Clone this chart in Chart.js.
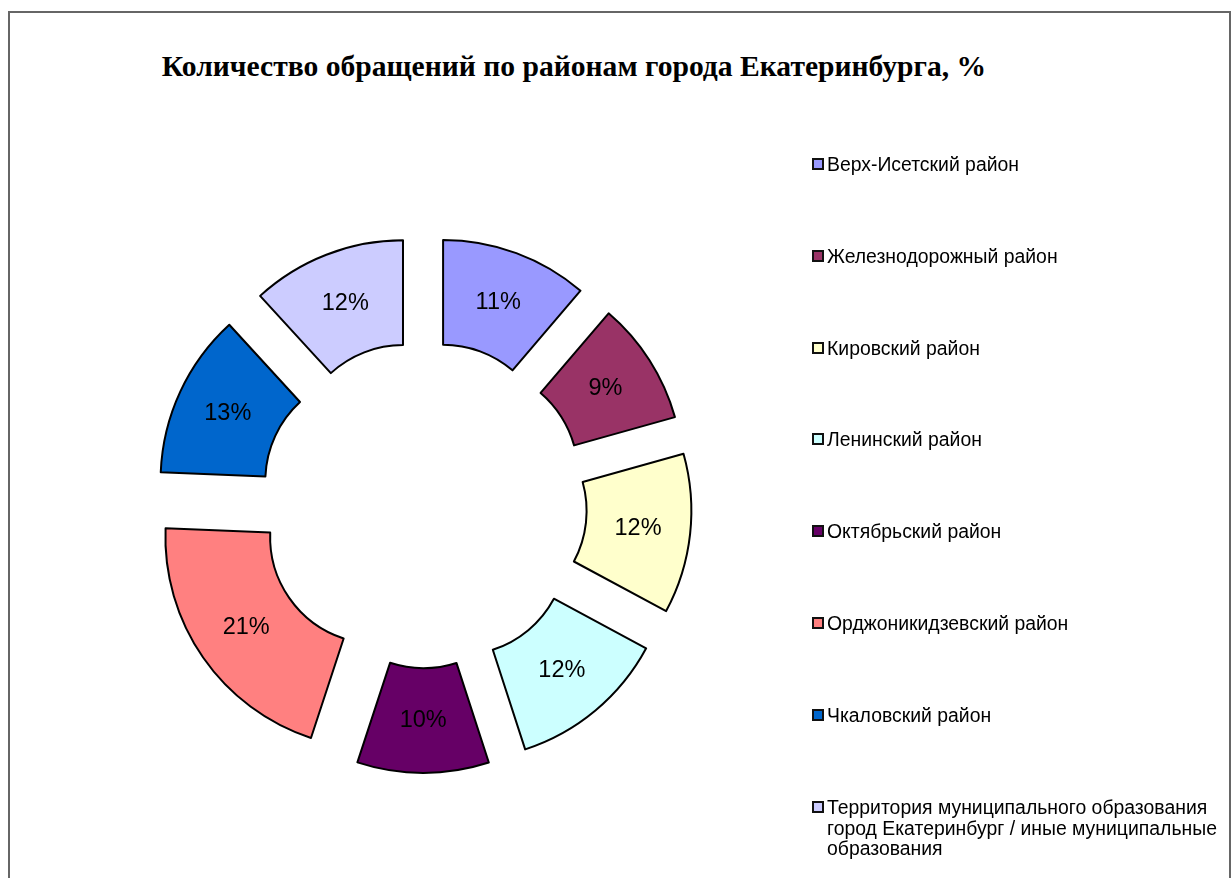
<!DOCTYPE html>
<html>
<head>
<meta charset="utf-8">
<script src="https://cdn.jsdelivr.net/npm/chart.js@4"></script>
<style>
  html, body { margin: 0; padding: 0; background: #fff; width: 1232px; height: 878px; overflow: hidden; }
  #frame { position: absolute; left: 8px; top: 11px; width: 1223px; height: 900px; border: 2px solid #666; box-sizing: border-box; }
  #title { position: absolute; left: 0; top: 48px; width: 1148px; text-align: center; font-family: "Liberation Serif", "Times New Roman", serif; font-weight: bold; font-size: 29.6px; line-height: 36px; color: #000; white-space: nowrap; }
  #c { position: absolute; left: 0; top: 0; }
  #legend { position: absolute; left: 812px; top: 0; font-family: "Liberation Sans", Arial, sans-serif; font-size: 19.4px; color: #000; }
  .item { position: absolute; left: 0; width: 415px; }
  .sw { position: absolute; left: 0; top: 4px; width: 12px; height: 12px; border: 2px solid #111; box-sizing: border-box; }
  .tx { position: absolute; left: 15px; top: 0; width: 400px; line-height: 20.5px; }
</style>
</head>
<body>
<div id="frame"></div>
<div id="title"></div>
<canvas id="c" width="1232" height="878"></canvas>
<div id="legend"></div>
<script>
const chartTitle = 'Количество обращений по районам города Екатеринбурга, %';
const categories = [
  'Верх-Исетский район',
  'Железнодорожный район',
  'Кировский район',
  'Ленинский район',
  'Октябрьский район',
  'Орджоникидзевский район',
  'Чкаловский район',
  'Территория муниципального образования город Екатеринбург / иные муниципальные образования'
];
const values = [11.25, 9.4, 12.2, 12.15, 10.05, 20.6, 12.55, 11.8];
const colors = ['#9999FF', '#993366', '#FFFFCC', '#CCFFFF', '#660066', '#FF8080', '#0066CC', '#CCCCFF'];
const explodeDistance = 56.6;

document.getElementById('title').textContent = chartTitle;

const explodePlugin = {
  id: 'explodeSlices',
  afterDatasetsUpdate(chart) {
    const meta = chart.getDatasetMeta(0);
    meta.data.forEach(arc => {
      const mid = (arc.startAngle + arc.endAngle) / 2;
      arc.x += explodeDistance * Math.cos(mid);
      arc.y += explodeDistance * Math.sin(mid);
    });
  }
};

const labelPlugin = {
  id: 'pctLabels',
  afterDatasetsDraw(chart) {
    const ctx = chart.ctx;
    const meta = chart.getDatasetMeta(0);
    const total = values.reduce((a, b) => a + b, 0);
    ctx.save();
    ctx.font = '23.5px "Liberation Sans", Arial, sans-serif';
    ctx.fillStyle = '#000';
    ctx.textAlign = 'center';
    ctx.textBaseline = 'middle';
    meta.data.forEach((arc, i) => {
      const p = arc.tooltipPosition();
      ctx.fillText(Math.round(values[i] / total * 100) + '%', p.x, p.y);
    });
    ctx.restore();
  }
};

const chart = new Chart(document.getElementById('c'), {
  type: 'doughnut',
  data: {
    labels: categories,
    datasets: [{
      data: values,
      backgroundColor: colors,
      borderColor: '#000',
      borderWidth: 2,
      borderJoinStyle: 'round',
      clip: false
    }]
  },
  options: {
    responsive: false,
    animation: false,
    events: [],
    radius: 211.6,
    cutout: '50.5%',
    layout: { padding: { left: 0, right: 385, top: 131.4, bottom: 0 } },
    plugins: {
      legend: { display: false },
      tooltip: { enabled: false },
      title: { display: false }
    }
  },
  plugins: [explodePlugin, labelPlugin]
});

// HTML legend built from the chart's data
const legendEl = document.getElementById('legend');
const legendFirstY = 164;
const legendStep = 91.9;
chart.data.labels.forEach((lab, i) => {
  const item = document.createElement('div');
  item.className = 'item';
  item.style.top = (legendFirstY + i * legendStep - 10.25) + 'px';
  const sw = document.createElement('div');
  sw.className = 'sw';
  sw.style.background = chart.data.datasets[0].backgroundColor[i];
  const tx = document.createElement('div');
  tx.className = 'tx';
  tx.textContent = lab;
  item.appendChild(sw);
  item.appendChild(tx);
  legendEl.appendChild(item);
});
</script>
</body>
</html>
